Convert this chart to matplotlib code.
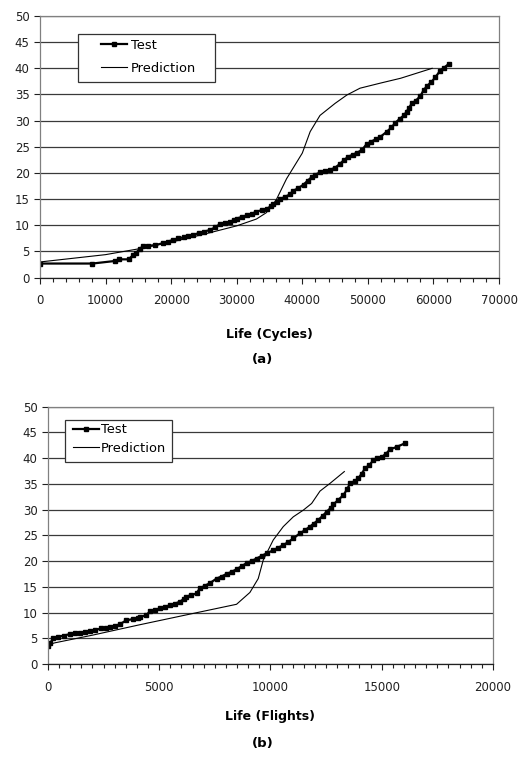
import matplotlib.pyplot as plt
from matplotlib.patches import Rectangle
from matplotlib.ticker import MultipleLocator

plt.rcParams["font.family"] = ["DejaVu Sans"]

# (a) life in cycles
cyc_test_x = [0, 8000, 11500, 12000, 13500, 14200, 14700, 15200, 15700, 16500,
              17500, 18800, 19500, 20300, 21000, 21900, 22600, 23400, 24200, 25000,
              25900, 26700, 27400, 28200, 29000, 29600, 30000, 30800, 31500, 32300,
              33000, 33800, 34600, 35200, 35600, 36100, 36600, 37300, 38100, 38600,
              39400, 40200, 40800, 41500, 42000, 42700, 43500, 44200, 45000, 45700,
              46300, 47000, 47700, 48400, 49100, 49800, 50500, 51300, 51900, 52900,
              53600, 54200, 54900, 55500, 55900, 56300, 56700, 57300, 58000, 58500,
              59000, 59700, 60300, 61000, 61600, 62300]
cyc_test_y = [2.7, 2.7, 3.2, 3.5, 3.5, 4.3, 4.8, 5.5, 6.0, 6.1,
              6.2, 6.6, 6.9, 7.2, 7.5, 7.7, 8.0, 8.2, 8.5, 8.8,
              9.1, 9.6, 10.2, 10.5, 10.7, 11.0, 11.3, 11.6, 11.9, 12.2,
              12.6, 12.9, 13.2, 13.6, 14.0, 14.5, 15.0, 15.4, 15.9, 16.6,
              17.1, 17.8, 18.5, 19.3, 19.7, 20.1, 20.3, 20.6, 21.0, 21.7,
              22.4, 23.1, 23.5, 23.9, 24.4, 25.5, 26.0, 26.5, 26.9, 27.9,
              28.7, 29.6, 30.4, 31.0, 31.7, 32.5, 33.3, 33.8, 34.7, 35.8,
              36.6, 37.4, 38.3, 39.5, 40.1, 40.8]
cyc_pred_x = [0, 10000, 15000, 20000, 25000, 30000, 33000, 34500, 36000, 37600,
              40000, 41200, 42700, 45000, 46800, 48800, 52000, 55000, 59800]
cyc_pred_y = [3.0, 4.4, 5.5, 6.8, 8.3, 9.9, 11.2, 12.4, 14.8, 18.9,
              23.8, 27.9, 31.0, 33.3, 34.9, 36.2, 37.2, 38.1, 40.0]

# (b) life in flights
flt_test_x = [0, 100, 225, 450, 700, 975, 1200, 1425, 1650, 1875,
              2100, 2400, 2600, 2775, 3000, 3225, 3525, 3800, 4050, 4125,
              4425, 4575, 4800, 5025, 5250, 5475, 5700, 5925, 6100, 6225,
              6450, 6675, 6825, 7050, 7275, 7575, 7800, 8025, 8250, 8475,
              8700, 8925, 9150, 9375, 9600, 9825, 10125, 10350, 10575, 10800,
              11025, 11325, 11550, 11775, 11950, 12150, 12350, 12525, 12700, 12825,
              13050, 13275, 13450, 13575, 13800, 13950, 14100, 14250, 14450, 14625,
              14800, 15000, 15200, 15375, 15675, 16050]
flt_test_y = [3.4, 4.0, 5.0, 5.3, 5.5, 5.8, 6.0, 6.1, 6.2, 6.4,
              6.6, 6.9, 7.0, 7.2, 7.4, 7.7, 8.5, 8.7, 8.9, 9.1,
              9.5, 10.2, 10.5, 10.8, 11.1, 11.4, 11.7, 12.1, 12.6, 13.1,
              13.4, 13.7, 14.7, 15.2, 15.7, 16.6, 17.0, 17.5, 17.9, 18.4,
              19.0, 19.6, 20.0, 20.5, 21.0, 21.5, 22.1, 22.6, 23.1, 23.7,
              24.4, 25.4, 26.0, 26.7, 27.3, 28.0, 28.8, 29.6, 30.3, 31.0,
              31.9, 32.8, 34.0, 35.1, 35.6, 36.1, 37.0, 38.0, 38.7, 39.6,
              40.0, 40.2, 40.9, 41.7, 42.2, 42.9]
flt_pred_x = [0, 300, 2000, 4100, 6500, 8475, 9075, 9450, 9675, 10125,
              10575, 11025, 11475, 11850, 12225, 12675, 13320]
flt_pred_y = [3.7, 4.1, 5.6, 7.6, 9.8, 11.6, 13.9, 16.6, 20.2, 24.1,
              26.7, 28.6, 29.9, 31.2, 33.6, 35.1, 37.4]

fig = plt.figure(figsize=(5.25, 7.57), dpi=100)
ax_a = fig.add_axes([0.0762, 0.6332, 0.8743, 0.3457])
ax_b = fig.add_axes([0.0914, 0.1229, 0.8476, 0.3398])


def style(ax, xmax, major, minor):
    ax.set_xlim(0, xmax)
    ax.set_ylim(0, 50)
    ax.xaxis.set_major_locator(MultipleLocator(major))
    ax.xaxis.set_minor_locator(MultipleLocator(minor))
    ax.yaxis.set_major_locator(MultipleLocator(5))
    ax.grid(axis="y", color="#3a3a3a", lw=0.9)
    ax.set_axisbelow(True)
    for s in ax.spines.values():
        s.set_color("#808080")
        s.set_linewidth(0.9)
    ax.spines["bottom"].set_color("#202020")
    ax.tick_params(axis="both", labelsize=8.5, colors="#202020",
                   length=4, width=0.8, direction="out")
    ax.tick_params(axis="x", which="minor", length=3, width=0.8, color="#202020")
    ax.tick_params(axis="x", pad=8)


def legend_box(ax, box, anchor, spacing, textpad):
    # white framed box behind a frameless legend
    x0, y0, x1, y1 = box
    ax.add_patch(Rectangle((x0, y0), x1 - x0, y1 - y0, transform=ax.transAxes,
                           facecolor="white", edgecolor="#333333", lw=0.9,
                           zorder=4))
    leg = ax.legend(loc="upper left", bbox_to_anchor=anchor, fontsize=9.4,
                    frameon=False, handlelength=2.0, handletextpad=textpad,
                    borderpad=0, borderaxespad=0, labelspacing=spacing)
    leg.set_zorder(5)


ax_a.plot(cyc_test_x, cyc_test_y, color="black", lw=1.6, marker="s", ms=2.4,
          label="Test")
ax_a.plot(cyc_pred_x, cyc_pred_y, color="black", lw=0.8, label="Prediction")
style(ax_a, 70000, 10000, 2000)
legend_box(ax_a, (0.083, 0.748, 0.381, 0.931), (0.133, 0.912), 0.75, 0.3)
ax_a.set_xlabel("Life (Cycles)", fontsize=9, fontweight="bold", labelpad=15)

ax_b.plot(flt_test_x, flt_test_y, color="black", lw=1.6, marker="s", ms=2.4,
          label="Test")
ax_b.plot(flt_pred_x, flt_pred_y, color="black", lw=0.8, label="Prediction")
style(ax_b, 20000, 5000, 500)
legend_box(ax_b, (0.038, 0.786, 0.279, 0.947), (0.056, 0.935), 0.4, 0.15)
ax_b.set_xlabel("Life (Flights)", fontsize=9, fontweight="bold", labelpad=12)

fig.text(0.5, 1 - 360 / 757, "(a)", ha="center", va="center",
         fontsize=9.5, fontweight="bold")
fig.text(0.5, 1 - 743 / 757, "(b)", ha="center", va="center",
         fontsize=9.5, fontweight="bold")

fig.savefig("out.png", dpi=100)
